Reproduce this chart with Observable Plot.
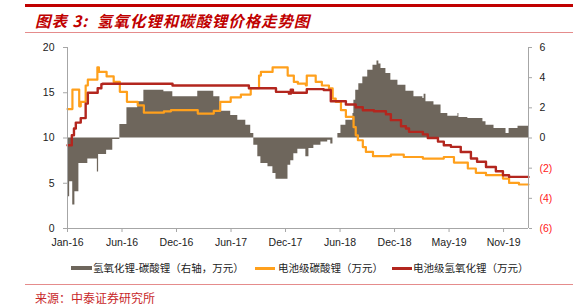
<!DOCTYPE html>
<html>
<head>
<meta charset="utf-8">
<script src="https://cdn.jsdelivr.net/npm/d3@7"></script>
<script src="https://cdn.jsdelivr.net/npm/@observablehq/plot@0.6"></script>
<style>
  html, body { margin: 0; padding: 0; background: #fff; }
  #wrap { position: relative; width: 573px; height: 306px; overflow: hidden; font-family: "Noto Sans CJK SC", "Liberation Sans", sans-serif; }
  .abs { position: absolute; white-space: nowrap; }
  #chart { position: absolute; left: 0; top: 36px; }
  .lg { position: absolute; top: 261px; font-size: 10.5px; color: #222; line-height: 14px; white-space: nowrap; }
  .sw { position: absolute; }
</style>
</head>
<body>
<div id="wrap">
  <div class="abs" style="left:25px; top:4px; width:548px; height:2.5px; background:#c00000;"></div>
  <div class="abs" style="left:35px; top:9px; font-size:15.5px; line-height:22px; font-style:italic; font-weight:bold; color:#c00000; letter-spacing:0.9px;">图表 3:&nbsp; 氢氧化锂和碳酸锂价格走势图</div>
  <div class="abs" style="left:25px; top:32px; width:548px; height:1px; background:#e58c8c;"></div>
  <div id="chart"></div>
  <div class="sw" style="left:71px; top:266px; width:21px; height:4px; background:#6e665c;"></div>
  <div class="lg" style="left:93px;">氢氧化锂-碳酸锂（右轴，万元）</div>
  <div class="sw" style="left:255px; top:267px; width:20px; height:2.5px; background:#ffa01c;"></div>
  <div class="lg" style="left:278px;">电池级碳酸锂（万元）</div>
  <div class="sw" style="left:392px; top:267px; width:20px; height:2.5px; background:#b3261e;"></div>
  <div class="lg" style="left:413px;">电池级氢氧化锂（万元）</div>
  <div class="abs" style="left:25px; top:284px; width:548px; height:1px; background:#e58c8c;"></div>
  <div class="abs" style="left:35px; top:289px; font-size:12px; line-height:17px; color:#c8282a;">来源：中泰证券研究所</div>
</div>
<script>
// ---- data (step breakpoints) ----
const carbDates = ["2016-01-04","2016-01-20","2016-02-11","2016-02-16","2016-03-03","2016-03-10","2016-04-10","2016-04-15","2016-05-10","2016-06-02","2016-06-22","2016-07-15","2016-08-19","2016-09-08","2016-11-12","2016-12-05","2017-03-02","2017-04-23","2017-05-14","2017-06-17","2017-07-20","2017-08-21","2017-09-17","2017-09-23","2017-10-31","2017-12-19","2018-01-08","2018-01-21","2018-02-16","2018-02-19","2018-03-20","2018-04-09","2018-05-02","2018-05-14","2018-05-24","2018-06-10","2018-06-26","2018-07-21","2018-07-28","2018-08-04","2018-08-20","2018-08-30","2018-09-22","2018-11-19","2018-12-31","2019-03-03","2019-05-10","2019-06-12","2019-07-27","2019-08-22","2019-09-24","2019-11-18","2019-12-08","2020-01-09","2020-02-09"];
const carbValues = [13.2,15.35,13.5,14.0,15.8,16.45,17.8,17.3,16.8,16.2,15.1,14.0,13.6,12.8,12.95,13.07,12.7,13.0,14.0,14.5,14.8,15.5,16.9,17.3,17.8,16.9,16.2,16.0,15.8,16.9,16.2,15.8,15.5,14.36,14.0,13.07,12.33,11.2,10.3,9.75,9.0,8.46,7.99,8.17,7.9,7.73,7.9,7.29,6.63,6.15,5.89,5.52,5.04,4.86,4.86];

const hydDates = ["2016-01-04","2016-01-18","2016-01-25","2016-01-31","2016-02-16","2016-03-03","2016-03-10","2016-04-11","2016-04-23","2016-04-27","2016-12-10","2017-08-15","2017-11-11","2017-12-23","2017-12-29","2018-01-05","2018-02-19","2018-04-15","2018-05-08","2018-06-26","2018-07-28","2018-08-20","2018-09-25","2018-11-03","2018-11-19","2018-12-22","2019-01-07","2019-01-17","2019-03-03","2019-03-19","2019-04-21","2019-05-10","2019-06-02","2019-07-04","2019-08-06","2019-08-26","2019-09-24","2019-10-26","2019-11-18","2019-12-08","2020-02-09"];
const hydValues = [9.2,10.3,11.05,11.7,12.2,13.8,15.0,15.5,15.95,16.0,15.8,15.5,15.1,14.9,15.35,15.0,15.4,15.3,14.06,13.7,13.4,13.07,12.96,12.63,11.97,11.3,11.05,10.68,10.4,10.0,9.6,9.2,9.02,8.46,7.73,7.37,6.8,6.33,5.89,5.7,5.7];

const diffDates = ["2016-01-04","2016-01-11","2016-01-21","2016-01-28","2016-02-10","2016-03-10","2016-04-10","2016-04-14","2016-05-10","2016-05-30","2016-06-22","2016-07-15","2016-08-19","2016-09-08","2016-11-12","2016-12-11","2017-03-02","2017-04-23","2017-05-13","2017-06-17","2017-07-10","2017-08-05","2017-08-21","2017-08-31","2017-09-13","2017-09-23","2017-10-16","2017-11-01","2017-11-11","2017-12-20","2017-12-29","2018-01-08","2018-01-21","2018-02-16","2018-02-26","2018-03-14","2018-04-06","2018-04-28","2018-05-08","2018-05-15","2018-05-31","2018-06-10","2018-06-26","2018-07-19","2018-07-22","2018-07-28","2018-08-07","2018-08-20","2018-09-05","2018-09-22","2018-10-05","2018-10-11","2018-10-18","2018-11-03","2018-11-19","2018-12-12","2019-01-07","2019-02-02","2019-03-03","2019-03-07","2019-03-13","2019-04-08","2019-05-01","2019-05-23","2019-06-25","2019-06-28","2019-07-27","2019-09-14","2019-09-24","2019-10-20","2019-11-28","2019-12-08","2020-01-06","2020-02-09"];
const diffValues = [-3.9,-2.9,-4.45,-3.57,-1.69,-1.4,-2.25,-1.1,-0.81,-0.1,0.9,2.0,2.4,3.17,3.06,2.73,3.1,2.73,1.78,1.5,1.18,0.85,0.3,-0.48,-1.25,-1.69,-1.9,-2.35,-2.73,-1.8,-1.5,-1.05,-0.74,-1.25,-0.7,-0.48,-0.26,-0.15,-0.4,0,0.3,0.85,1.18,1.62,2.5,3.17,3.6,4.05,4.5,4.83,5.1,4.9,4.6,4.28,3.83,3.5,3.1,2.73,2.62,2.9,2.4,2.18,1.62,1.45,1.62,1.36,1.29,1.07,0.85,0.63,0.3,0.63,0.78,0.78];

const xTickDates = ["2016-01-04","2016-06-29","2016-12-23","2017-06-18","2017-12-12","2018-06-07","2018-12-01","2019-05-27","2019-11-20"];
const xTickLabels = ["Jan-16","Jun-16","Dec-16","Jun-17","Dec-17","Jun-18","Dec-18","May-19","Nov-19"];
const leftTicks = [0,5,10,15,20];
const rightTicks = [6,4,2,0,-2,-4,-6];
const xStart = "2016-01-04", xEnd = "2020-02-09";

// ---- build ----
const parse = s => new Date(s + "T00:00:00Z");
const carb = carbDates.map((d,i) => ({date: parse(d), v: carbValues[i]}));
const hyd = hydDates.map((d,i) => ({date: parse(d), v: hydValues[i]}));
const diff = diffDates.map((d,i) => ({date: parse(d), v: diffValues[i]}));
const toLeft = r => 10 + r * 10 / 6;
const tickMap = new Map(xTickDates.map((d,i) => [+parse(d), xTickLabels[i]]));
const fmtR = r => r < 0 ? `(${-r})` : `${r}`;
const axisGray = "#a6a6a6";

const chart = Plot.plot({
  width: 573,
  height: 216,
  marginLeft: 67,
  marginRight: 45,
  marginTop: 11,
  marginBottom: 24,
  x: {type: "utc", domain: [parse(xStart), parse(xEnd)]},
  y: {domain: [0, 20]},
  style: {fontFamily: "'Liberation Sans', Arial, sans-serif", fontSize: "10.5px", color: "#222", background: "transparent"},
  marks: [
    Plot.areaY(diff, {x: "date", y1: () => 10, y2: d => toLeft(d.v), curve: "step-after", fill: "#6e665c"}),
    Plot.line(carb, {x: "date", y: "v", curve: "step-after", stroke: "#ffa01c", strokeWidth: 2.2}),
    Plot.line(hyd, {x: "date", y: "v", curve: "step-after", stroke: "#b3261e", strokeWidth: 2.4}),
    Plot.ruleY([0], {stroke: axisGray}),
    Plot.ruleX([parse(xStart)], {stroke: axisGray}),
    Plot.ruleX([parse(xEnd)], {stroke: axisGray}),
    Plot.axisX({ticks: xTickDates.map(parse), tickFormat: d => tickMap.get(+d), tickSize: 4, tickPadding: 6, stroke: axisGray, fill: "#222", label: null}),
    Plot.axisY({anchor: "left", ticks: leftTicks, tickFormat: d => `${d}`, tickSize: 4, tickPadding: 9, stroke: axisGray, fill: "#222", label: null}),
    Plot.axisY({anchor: "right", ticks: rightTicks.filter(r => r >= 0).map(toLeft), tickFormat: d => fmtR(Math.round((d - 10) * 0.6)), tickSize: 3, tickPadding: 8, stroke: axisGray, fill: "#222", label: null}),
    Plot.axisY({anchor: "right", ticks: rightTicks.filter(r => r < 0).map(toLeft), tickFormat: d => fmtR(Math.round((d - 10) * 0.6)), tickSize: 3, tickPadding: 8, stroke: axisGray, fill: "#ff2020", label: null})
  ]
});
document.getElementById("chart").appendChild(chart);
</script>
</body>
</html>
